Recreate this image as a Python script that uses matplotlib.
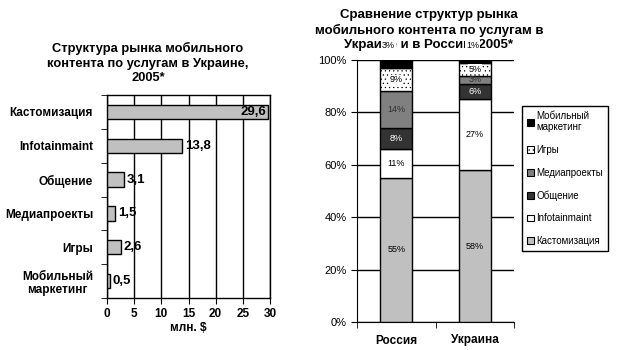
import matplotlib.pyplot as plt
from matplotlib.patches import Patch
import numpy as np

plt.rcParams['font.family'] = ['Liberation Sans', 'DejaVu Sans']
plt.rcParams['hatch.linewidth'] = 0.4

# left chart: Ukraine, mln $
services = ['Кастомизация', 'Infotainmaint', 'Общение', 'Медиапроекты', 'Игры',
            'Мобильный\nмаркетинг']
ukr_mln = [29.6, 13.8, 3.1, 1.5, 2.6, 0.5]

# right chart: shares, %, bottom -> top
countries = ['Россия', 'Украина']
seg_names = ['Кастомизация', 'Infotainmaint', 'Общение', 'Медиапроекты', 'Игры',
             'Мобильный\nмаркетинг']
russia_pct = [55, 11, 8, 14, 9, 3]
ukraine_pct = [58, 27, 6, 3, 5, 1]

seg_colors = ['#c0c0c0', '#ffffff', '#333333', '#808080', '#ffffff', '#000000']
seg_hatch = [None, None, None, None, '....', None]
seg_text = ['black', 'black', 'white', '#303030', 'black', 'black']
top_label_shift = [-0.1, -0.03]

W, H = 619, 350
fig = plt.figure(figsize=(6.19, 3.5), dpi=100)

def box(x0, y0, x1, y1):
    return [x0 / W, 1 - y1 / H, (x1 - x0) / W, (y1 - y0) / H]

# ---- left chart
ax = fig.add_axes(box(107, 95, 270, 298))
y = np.arange(len(services))
ax.barh(y, ukr_mln, height=0.42, color='#c0c0c0', edgecolor='black', lw=1, zorder=3)
ax.set_ylim(len(services) - 0.5, -0.5)
ax.set_xlim(0, 30)
ax.set_xticks(range(0, 31, 5))
ax.grid(axis='x', color='black', lw=1, zorder=0)
ax.set_yticks(y)
ax.set_yticklabels(services, fontsize=8.5, fontweight='bold', ha='right',
                   multialignment='center', linespacing=1.2)
ax.set_yticks(np.arange(-0.5, len(services)), minor=True)
ax.tick_params(axis='y', which='major', length=0, pad=10)
ax.tick_params(axis='y', which='minor', length=4, direction='out')
ax.tick_params(axis='x', length=4, labelsize=8.5)
for lbl in ax.get_xticklabels():
    lbl.set_fontweight('bold')
ax.set_xlabel('млн. $', fontsize=8.5, fontweight='bold', labelpad=1)
for yi, v in zip(y, ukr_mln):
    txt = ('%.1f' % v).replace('.', ',')
    if v > 25:
        ax.text(v - 0.3, yi, txt, ha='right', va='center', fontsize=9.5,
                fontweight='bold', zorder=4)
    else:
        ax.text(v + 0.5, yi, txt, ha='left', va='center', fontsize=9.5,
                fontweight='bold', zorder=4)
for s in ax.spines.values():
    s.set_linewidth(1)

fig.text(148 / W, 1 - 63 / H,
         'Структура рынка мобильного\nконтента по услугам в Украине,\n2005*',
         ha='center', va='center', fontsize=9.3, fontweight='bold', linespacing=1.25)

# ---- right chart
ax2 = fig.add_axes(box(357, 60, 514, 322))
ax2.set_zorder(2)
x = np.arange(len(countries))
data = np.array([russia_pct, ukraine_pct]).T
bottom = np.zeros(len(countries))
bw = 0.41
for i, row in enumerate(data):
    ax2.bar(x, row, bw, bottom=bottom, color=seg_colors[i], edgecolor='black',
            lw=1, hatch=seg_hatch[i], zorder=3)
    for xi, b, v in zip(x, bottom, row):
        if i == len(data) - 1:
            # the top segment's label sits above the plot, over the title
            ax2.text(xi + top_label_shift[xi], 105.7, '%d%%' % v, ha='center',
                     va='center', fontsize=6.5, clip_on=False, zorder=5,
                     bbox=dict(facecolor='white', edgecolor='none', pad=0.5))
        else:
            ax2.text(xi, b + v / 2, '%d%%' % v, ha='center', va='center',
                     fontsize=6.5, color=seg_text[i], zorder=4,
                     bbox=dict(facecolor=seg_colors[i], edgecolor='none', pad=0.3)
                     if seg_hatch[i] else None)
    bottom += row
ax2.set_xlim(-0.5, 1.5)
ax2.set_ylim(0, 100)
ax2.set_yticks(range(0, 101, 20))
ax2.set_yticklabels(['%d%%' % t for t in range(0, 101, 20)], fontsize=8)
ax2.grid(axis='y', color='black', lw=1, zorder=0)
ax2.set_xticks(x)
ax2.set_xticklabels(countries, fontsize=8.5, fontweight='bold')
ax2.set_xticks([-0.5, 0.5, 1.5], minor=True)
ax2.tick_params(axis='x', which='major', length=0, pad=9)
ax2.tick_params(axis='x', which='minor', length=4, direction='out')
ax2.tick_params(axis='y', length=4, direction='out')
ax2.spines['top'].set_visible(False)
ax2.spines['right'].set_visible(False)

fig.text(429 / W, 1 - 30 / H,
         'Сравнение структур рынка\nмобильного контента по услугам в\nУкраине и в России, 2005*',
         ha='center', va='center', fontsize=9.5, fontweight='bold', linespacing=1.25,
         zorder=1)

handles = [Patch(facecolor=seg_colors[i], edgecolor='black', hatch=seg_hatch[i], lw=0.8)
           for i in range(len(seg_names))][::-1]
leg = fig.legend(handles, seg_names[::-1], loc='upper left',
                 bbox_to_anchor=(522 / W, 1 - 106 / H), fontsize=7,
                 handlelength=0.7, handleheight=0.7, handletextpad=0.3,
                 labelspacing=1.3, borderpad=0.5, fancybox=False,
                 edgecolor='black', framealpha=1, borderaxespad=0)
leg.get_frame().set_linewidth(1)

fig.savefig('out.png', dpi=100)
